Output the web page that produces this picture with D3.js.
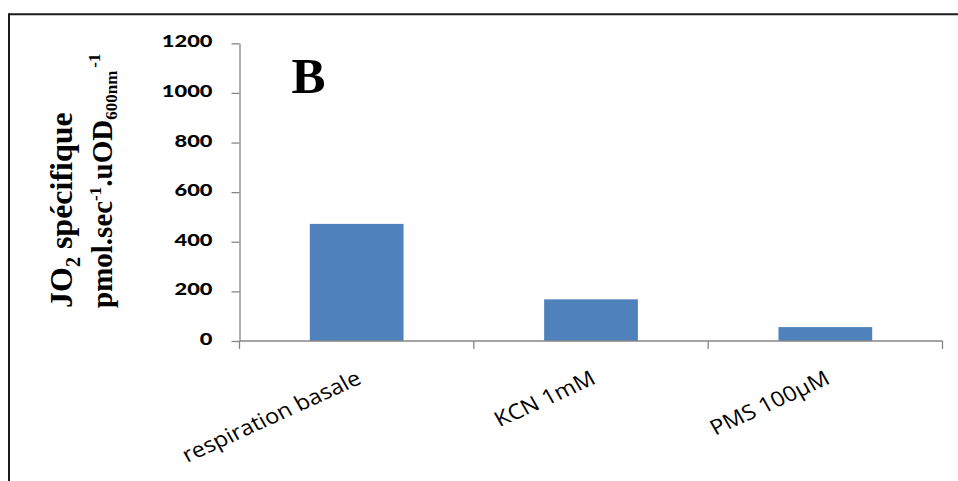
<!DOCTYPE html>
<html>
<head>
<meta charset="utf-8">
<script src="https://cdn.jsdelivr.net/npm/d3@7"></script>
<style>
  html, body { margin: 0; padding: 0; background: #fff; }
  svg { display: block; }
</style>
</head>
<body>
<svg id="chart" width="958" height="481"></svg>
<script>
const categories = ["respiration basale", "KCN 1mM", "PMS 100µM"];
const values = [472, 168, 56];
const yTicks = [0, 200, 400, 600, 800, 1000, 1200];
const panelLabel = "B";

const svg = d3.select("#chart");
const W = 958, H = 481;

// frame
svg.append("line").attr("x1", 9).attr("x2", W).attr("y1", 14.3).attr("y2", 14.3)
  .attr("stroke", "#1a1a1a").attr("stroke-width", 2);
svg.append("line").attr("x1", 9).attr("x2", 9).attr("y1", 13.3).attr("y2", H)
  .attr("stroke", "#1a1a1a").attr("stroke-width", 2);

const x = d3.scaleBand().domain(categories).range([239.5, 942.5])
  .paddingInner(0.6).paddingOuter(0.3);
const y = d3.scaleLinear().domain([0, 1200]).range([341, 43.3]);
const axisColor = "#868686";

// bars
svg.append("g").selectAll("rect").data(values).join("rect")
  .attr("x", (d, i) => x(categories[i]))
  .attr("y", d => y(d))
  .attr("width", x.bandwidth())
  .attr("height", d => y(0) - y(d))
  .attr("fill", "#4F81BD");

// y axis
const sx = 1.25;
const gy = svg.append("g").attr("transform", "translate(239.5,0)")
  .call(d3.axisLeft(y).tickValues(yTicks).tickFormat(d3.format("d"))
    .tickSize(8).tickSizeOuter(0).tickPadding(19));
gy.select(".domain").attr("stroke", axisColor).attr("stroke-width", 1.3);
gy.selectAll(".tick line").attr("stroke", axisColor).attr("stroke-width", 1.3);
gy.selectAll(".tick text")
  .attr("font-family", "Lato, 'Open Sans', sans-serif")
  .attr("font-weight", 900)
  .attr("font-size", 17.5)
  .attr("fill", "#000")
  .attr("dy", "0.2em")
  .attr("x", -27 / sx)
  .attr("transform", `scale(${sx},1)`);

// x axis
const gx = svg.append("g").attr("transform", `translate(0,${y(0)})`)
  .call(d3.axisBottom(x).tickSize(0).tickFormat(""));
gx.select(".domain").attr("stroke", axisColor).attr("stroke-width", 1.3)
  .attr("d", `M${x.range()[0]},0H${x.range()[1]}`);
gx.selectAll(".tick").remove();
const bounds = d3.range(categories.length + 1).map(i => x.range()[0] + i * x.step());
gx.selectAll("line.bt").data(bounds).join("line").attr("class", "bt")
  .attr("x1", d => d).attr("x2", d => d).attr("y1", 0).attr("y2", 8)
  .attr("stroke", axisColor).attr("stroke-width", 1.3);

// category labels
const cx = 1.12;
svg.append("g").selectAll("text").data(categories).join("text")
  .attr("transform", d => `translate(${x(d) + x.bandwidth() / 2 + 6},${y(0) + 42}) scale(${cx},1) rotate(-27)`)
  .attr("text-anchor", "end")
  .attr("font-family", "'Open Sans', Lato, sans-serif")
  .attr("font-size", 21)
  .attr("fill", "#000")
  .text(d => d);

// panel label
svg.append("text").attr("x", 291.5).attr("y", 93.3)
  .attr("font-family", "'Liberation Serif', 'Times New Roman', serif")
  .attr("font-weight", "bold").attr("font-size", 51).attr("fill", "#000")
  .text(panelLabel);

// y axis title (two lines, rotated)
const serif = "'Liberation Serif', 'Times New Roman', serif";
const t1 = svg.append("text")
  .attr("transform", "translate(71.5,308) rotate(-90)")
  .attr("font-family", serif).attr("font-weight", "bold").attr("font-size", 32).attr("fill", "#000");
t1.append("tspan").text("JO");
t1.append("tspan").attr("font-size", 20).attr("dy", 8).text("2");
t1.append("tspan").attr("dy", -8).text(" spécifique");

const t2 = svg.append("text")
  .attr("transform", "translate(112,308) rotate(-90)")
  .attr("font-family", serif).attr("font-weight", "bold").attr("font-size", 29).attr("fill", "#000");
t2.append("tspan").text("pmol.sec");
t2.append("tspan").attr("font-size", 17).attr("dy", -11).text("-1");
t2.append("tspan").attr("dy", 11).text(".uOD");
t2.append("tspan").attr("font-size", 17).attr("dy", 5).text("600nm");
t2.append("tspan").attr("font-size", 17).attr("dy", -17).attr("dx", 3).text("-1");
</script>
</body>
</html>
